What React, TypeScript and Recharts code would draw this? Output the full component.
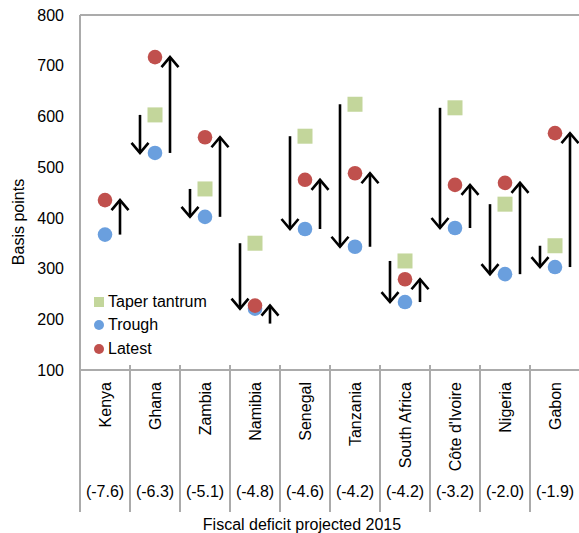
import {
  ComposedChart,
  Scatter,
  Bar,
  XAxis,
  YAxis,
  ReferenceLine,
  Legend,
} from "recharts";

const countries = [
  "Kenya",
  "Ghana",
  "Zambia",
  "Namibia",
  "Senegal",
  "Tanzania",
  "South Africa",
  "Côte d'Ivoire",
  "Nigeria",
  "Gabon",
];
const deficits = ["(-7.6)", "(-6.3)", "(-5.1)", "(-4.8)", "(-4.6)", "(-4.2)", "(-4.2)", "(-3.2)", "(-2.0)", "(-1.9)"];
const taperTantrum = [null, 603, 457, 350, 561, 624, 315, 617, 427, 345];
const trough = [367, 528, 402, 221, 378, 343, 234, 380, 289, 303];
const latest = [435, 717, 559, 227, 475, 488, 279, 465, 469, 567];
const yTicks = [100, 200, 300, 400, 500, 600, 700, 800];
const seriesNames = ["Taper tantrum", "Trough", "Latest"];

const GREEN = "#C3D69B";
const BLUE = "#6A9FDE";
const RED = "#C0504D";
const AXIS = "#ABABAB";
const FONT = "'Liberation Sans', Arial, sans-serif";

const data = countries.map((name, i) => ({
  name,
  deficit: deficits[i],
  taper: taperTantrum[i],
  trough: trough[i],
  latest: latest[i],
  down: taperTantrum[i] != null ? [trough[i], taperTantrum[i]] : null,
  up: [trough[i], latest[i]],
}));

// arrows are drawn at least this long so the head never swallows the shaft
const MIN_ARROW = 18;

function makeArrow(dir: "up" | "down") {
  return (props: any) => {
    const { x, y, width, height } = props;
    if (x == null || y == null || height == null || isNaN(y) || isNaN(height)) return <g />;
    const cx = x + width / 2;
    let top = Math.min(y, y + height);
    let bottom = Math.max(y, y + height);
    if (bottom - top < MIN_ARROW) {
      if (dir === "up") bottom = top + MIN_ARROW;
      else top = bottom - MIN_ARROW;
    }
    const tipY = dir === "up" ? top : bottom;
    const s = dir === "up" ? 1 : -1;
    return (
      <g stroke="#000" strokeWidth={2.6} fill="none">
        <line x1={cx} y1={top} x2={cx} y2={bottom} />
        <polyline
          points={`${cx - 8.5},${tipY + s * 10} ${cx},${tipY} ${cx + 8.5},${tipY + s * 10}`}
          strokeLinejoin="miter"
        />
      </g>
    );
  };
}

const SquareDot = (props: any) => {
  const { cx, cy, payload } = props;
  if (payload?.taper == null || cy == null || isNaN(cy)) return <g />;
  return <rect x={cx - 7.5} y={cy - 7.5} width={15} height={15} fill={GREEN} />;
};

const circleDot = (color: string) => (props: any) => {
  const { cx, cy } = props;
  if (cy == null || isNaN(cy)) return <g />;
  return <circle cx={cx} cy={cy} r={7.3} fill={color} />;
};

const CategoryTick = (props: any) => {
  const { x, y, payload, index } = props;
  const half = payload?.offset || 25;
  const row = data[index];
  const nameX = x + 5.5;
  const nameY = y + 12;
  return (
    <g fontFamily={FONT} fontSize={16} fill="#000">
      <line x1={x - half} y1={y - 5} x2={x - half} y2={y} stroke={AXIS} strokeWidth={2} />
      <line x1={x - half} y1={y} x2={x - half} y2={y + 142} stroke={AXIS} strokeWidth={2} />
      {index === data.length - 1 && (
        <line x1={x + half} y1={y - 5} x2={x + half} y2={y + 142} stroke={AXIS} strokeWidth={2} />
      )}
      <text
        x={nameX}
        y={nameY}
        textAnchor="end"
        transform={`rotate(-90, ${nameX}, ${nameY})`}
      >
        {payload.value}
      </text>
      <text x={x} y={y + 127} textAnchor="middle">
        {row?.deficit}
      </text>
    </g>
  );
};

const YTitle = () => (
  <text
    x={24}
    y={222}
    textAnchor="middle"
    transform="rotate(-90, 24, 222)"
    fontFamily={FONT}
    fontSize={16}
    fill="#000"
  >
    Basis points
  </text>
);

const XTitle = () => (
  <text x={302} y={530} textAnchor="middle" fontFamily={FONT} fontSize={16} fill="#000">
    Fiscal deficit projected 2015
  </text>
);

const LegendContent = (props: any) => {
  const items = (props.payload || [])
    .filter((p: any) => p.type !== "none" && seriesNames.includes(p.value))
    .sort((a: any, b: any) => seriesNames.indexOf(a.value) - seriesNames.indexOf(b.value));
  return (
    <div style={{ fontFamily: FONT, fontSize: 16, color: "#000" }}>
      {items.map((p: any) => (
        <div
          key={p.value}
          style={{ display: "flex", alignItems: "center", height: 23.5, whiteSpace: "nowrap" }}
        >
          <span
            style={{
              display: "inline-block",
              width: 10,
              height: 10,
              background: p.color,
              borderRadius: p.type === "circle" ? "50%" : 0,
              marginRight: 4,
            }}
          />
          {p.value}
        </div>
      ))}
    </div>
  );
};

export default function App() {
  return (
    <div
      style={{
        position: "absolute",
        left: 0,
        top: 0,
        width: 579,
        height: 533,
        overflow: "hidden",
        background: "#fff",
      }}
    >
      <ComposedChart
        width={581}
        height={533}
        data={data}
        margin={{ top: 15, right: 1, bottom: 0, left: 20 }}
        barGap={26}
      >
        <XAxis
          dataKey="name"
          type="category"
          height={163}
          interval={0}
          tickSize={0}
          tickMargin={0}
          tickLine={false}
          axisLine={{ stroke: AXIS, strokeWidth: 2 }}
          tick={<CategoryTick />}
          label={<XTitle />}
        />
        <YAxis
          type="number"
          domain={[100, 800]}
          ticks={yTicks}
          interval={0}
          width={60}
          tickSize={0}
          tickMargin={16}
          tickLine={false}
          axisLine={{ stroke: AXIS, strokeWidth: 2 }}
          tick={{ fill: "#000", fontSize: 16, fontFamily: FONT }}
          label={<YTitle />}
        />
        <ReferenceLine y={800} stroke={AXIS} strokeWidth={2} />
        <Bar
          dataKey="down"
          barSize={4}
          legendType="none"
          isAnimationActive={false}
          shape={makeArrow("down")}
        />
        <Bar
          dataKey="up"
          barSize={4}
          legendType="none"
          isAnimationActive={false}
          shape={makeArrow("up")}
        />
        <Scatter
          name="Taper tantrum"
          dataKey="taper"
          fill={GREEN}
          legendType="square"
          isAnimationActive={false}
          shape={SquareDot}
        />
        <Scatter
          name="Trough"
          dataKey="trough"
          fill={BLUE}
          legendType="circle"
          isAnimationActive={false}
          shape={circleDot(BLUE)}
        />
        <Scatter
          name="Latest"
          dataKey="latest"
          fill={RED}
          legendType="circle"
          isAnimationActive={false}
          shape={circleDot(RED)}
        />
        <Legend
          layout="vertical"
          align="center"
          verticalAlign="middle"
          content={<LegendContent />}
          wrapperStyle={{ left: 94, top: 290, width: 140 }}
        />
      </ComposedChart>
    </div>
  );
}
